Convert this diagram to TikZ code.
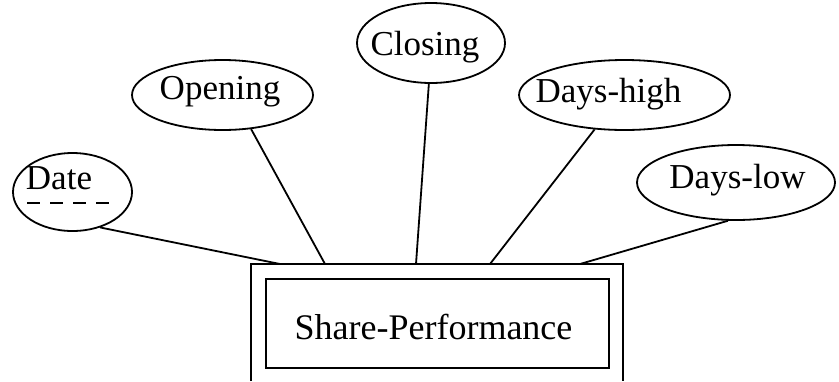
\documentclass[tikz,border=0pt]{standalone}
\usepackage{fontspec}
\setmainfont{Liberation Serif}
\usetikzlibrary{shapes.geometric}
\begin{document}
\begin{tikzpicture}[x=0.5pt,y=-0.5pt,line width=0.9pt,
  attr/.style={ellipse,draw,inner sep=0pt},
  lbl/.style={anchor=base,inner sep=0pt,font=\fontsize{17.5}{21}\selectfont}]
\useasboundingbox (0,0) rectangle (839,381);

% attribute ellipses
\node[attr,minimum width=59.5pt,minimum height=39pt]  (date)     at (72.5,192)  {};
\node[attr,minimum width=90.5pt,minimum height=35pt]  (opening)  at (222.5,95)  {};
\node[attr,minimum width=74pt,minimum height=40pt]    (closing)  at (431,43)    {};
\node[attr,minimum width=105.5pt,minimum height=35pt] (dayshigh) at (624.5,95)  {};
\node[attr,minimum width=99pt,minimum height=37.5pt]  (dayslow)  at (736,182.5) {};

% attribute names
\node[lbl] (datetxt)     at (59,189)    {Date};
\node[lbl] (openingtxt)  at (220,99)    {Opening};
\node[lbl] (closingtxt)  at (425,55)    {Closing};
\node[lbl] (dayshightxt) at (608.5,102) {Days-high};
\node[lbl] (dayslowtxt)  at (737.5,188) {Days-low};

% partial key underline
\draw[dash pattern=on 6.5pt off 5pt] (27,203) -- (110,203);

% weak entity: double rectangle, outer frame open at the bottom
\coordinate (obl) at (251,381);
\coordinate (otl) at (251,264);
\coordinate (otr) at (623,264);
\coordinate (obr) at (623,381);
\draw (obl) -- (otl) -- (otr) -- (obr);
\node[draw,inner sep=0pt,minimum width=171.5pt,minimum height=44.5pt] (entity) at (437.5,323.5) {};
\node[lbl,font=\fontsize{18}{21}\selectfont] (entitytxt) at (433.5,339) {Share-Performance};

% attachment points on the top edge
\coordinate (p1) at (280,264);
\coordinate (p2) at (325,264);
\coordinate (p3) at (416,264);
\coordinate (p4) at (490,264);
\coordinate (p5) at (580,264);

% connectors
\draw (date.-52)      -- (p1);
\draw (opening.-50)   -- (p2);
\draw (closing.-93)   -- (p3);
\draw (dayshigh.-131) -- (p4);
\draw (dayslow.-102)  -- (p5);
\end{tikzpicture}
\end{document}
